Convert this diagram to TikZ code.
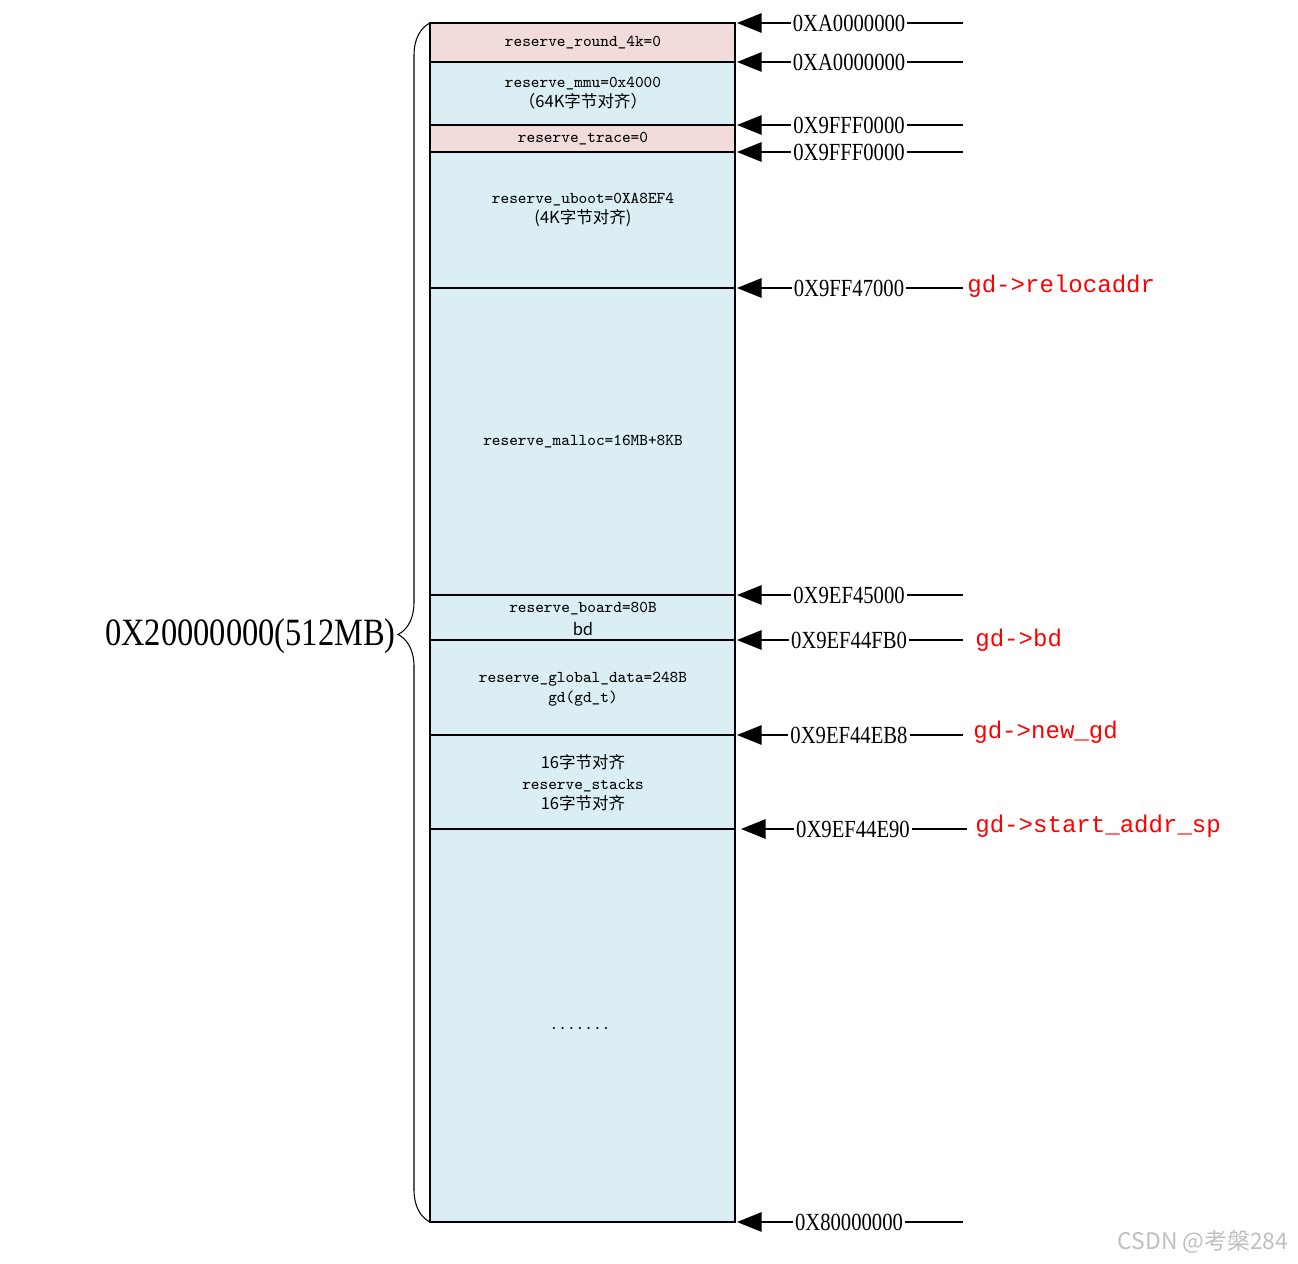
\documentclass[tikz,border=0pt]{standalone}
\usepackage{fontspec}
\newfontfamily\addrfont[FakeStretch=0.84]{Liberation Serif}
\newfontfamily\cjk{Noto Sans CJK SC}
\newfontfamily\redfont{Liberation Mono}
\usetikzlibrary{arrows.meta, decorations.pathreplacing, calc}
\definecolor{mPink}{HTML}{F2DCDB}
\definecolor{mBlue}{HTML}{DAEEF3}
\definecolor{mRed}{HTML}{FF0000}

\begin{document}
\begin{tikzpicture}[x=0.02cm, y=-0.02cm,
      seg/.style={draw, line width=1.1pt},
      txt/.style={font=\fontsize{9.4}{11.6}\selectfont\ttfamily, text=black, align=center, inner sep=0pt},
      addr/.style={font=\fontsize{14}{16}\selectfont\addrfont, inner sep=1pt},
      ptr/.style={-{Triangle[length=14pt, width=11pt]}, line width=1.1pt},
      tail/.style={line width=1.1pt},
      gdlab/.style={font=\fontsize{13.7}{16}\selectfont\redfont, text=mRed, anchor=west, inner sep=0pt}]
    \useasboundingbox (0,0) rectangle (1298,1264);
    % memory column
    \filldraw[seg, fill=mPink] (430,23)  rectangle (735,62);
    \filldraw[seg, fill=mBlue] (430,62)  rectangle (735,125);
    \filldraw[seg, fill=mPink] (430,125) rectangle (735,152);
    \filldraw[seg, fill=mBlue] (430,152) rectangle (735,1222);
    \foreach \y in {288, 595, 640, 735, 829}
      \draw[seg] (430,\y) -- (735,\y);
    \node[txt] (round)  at (583,43)  {reserve\_round\_4k=0};
    \node[txt] (mmu)    at (583,93)  {reserve\_mmu=0x4000\\{\cjk （64K字节对齐）}};
    \node[txt] (trace)  at (583,139) {reserve\_trace=0};
    \node[txt] (uboot)  at (583,210) {reserve\_uboot=0XA8EF4\\{\cjk (4K字节对齐)}};
    \node[txt] (malloc) at (583,442) {reserve\_malloc=16MB+8KB};
    \node[txt] (board)  at (583,619) {reserve\_board=80B\\[2pt]{\cjk bd}};
    \node[txt] (gdata)  at (583,689) {reserve\_global\_data=248B\\gd(gd\_t)};
    \node[txt] (stacks) at (583,783) {{\cjk 16字节对齐}\\reserve\_stacks\\{\cjk 16字节对齐}};
    \node[txt] (dots)   at (580,1028) {.......};
    % addresses
    \foreach \y/\n/\t in {23/0/0XA0000000, 62/1/0XA0000000, 125/2/0X9FFF0000,
        152/3/0X9FFF0000, 288/4/0X9FF47000, 595/5/0X9EF45000,
        640/6/0X9EF44FB0, 735/7/0X9EF44EB8, 1222/9/0X80000000} {
      \coordinate (b\n) at (737,\y);
      \coordinate (e\n) at (963,\y);
      \node[addr] (a\n) at (849,\y) {\t};
      \draw[ptr]  (a\n) -- (b\n);
      \draw[tail] (a\n) -- (e\n);
    }
    \coordinate (b8) at (741,829);
    \coordinate (e8) at (967,829);
    \node[addr] (a8) at (853,829) {0X9EF44E90};
    \draw[ptr]  (a8) -- (b8);
    \draw[tail] (a8) -- (e8);
    % gd pointers
    \node[gdlab] (reloc)  at (967,286) {gd->relocaddr};
    \node[gdlab] (gdbd)   at (975,640) {gd->bd};
    \node[gdlab] (newgd)  at (973,732) {gd->new\_gd};
    \node[gdlab] (sp)     at (975,826) {gd->start\_addr\_sp};
    % total size
    \draw[line width=0.6pt, decorate, decoration={brace, amplitude=0.64cm, aspect=0.49}]
      (430,1222) -- (430,23);
    \node[font=\fontsize{22}{25}\selectfont\addrfont, anchor=east, inner sep=0pt] (total) at (396,636) {0X20000000(512MB)};
    \node[font=\fontsize{13}{15}\selectfont\cjk, text=black!25] (wm) at (1203,1242) {CSDN @考槃284};
\end{tikzpicture}
\end{document}
